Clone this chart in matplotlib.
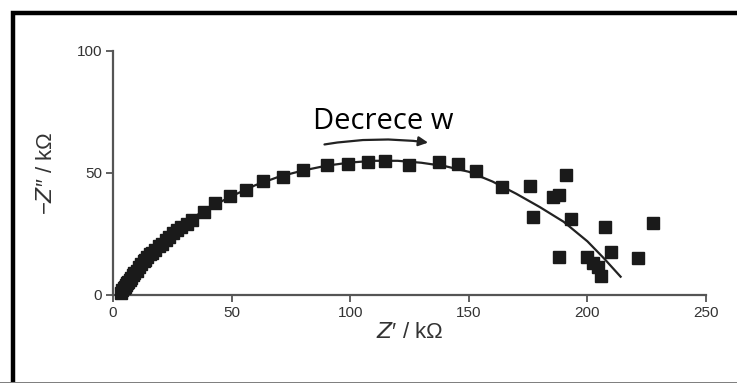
import matplotlib
matplotlib.use("Agg")
import matplotlib.pyplot as plt
from matplotlib.patches import Rectangle
import numpy as np

# Measured impedance points (Z', -Z'') in kOhm
z_real = [3.5, 4.0, 4.5, 5.0, 5.5, 6.0, 6.5, 7.0, 7.5, 8.3, 9.0, 10.0, 11.0, 12.0,
          13.0, 13.7, 14.5, 15.5, 16.3, 17.5, 19.3, 20.5, 22.2, 23.5, 25.2, 27.0,
          28.8, 31.0, 33.2, 38.3, 43.1, 49.4, 56.2, 63.1, 71.5, 80.2, 90.2, 99.1,
          107.6, 114.6, 124.9, 137.4, 145.4, 152.9, 163.8, 175.7, 177.1, 185.6,
          188.0, 191.0, 193.0, 188.0, 200.0, 202.3, 204.3, 205.9, 207.5, 209.9,
          221.4, 227.8]
z_imag = [1.0, 2.0, 2.8, 3.4, 4.0, 4.8, 5.5, 6.2, 7.0, 8.0, 8.9, 10.0, 11.6, 12.8,
          14.0, 14.4, 15.6, 16.8, 17.1, 18.5, 19.9, 21.0, 22.6, 23.8, 25.3, 26.5,
          27.8, 29.2, 30.8, 34.2, 37.7, 40.4, 43.2, 46.6, 48.4, 51.1, 53.4, 53.8,
          54.5, 55.1, 53.2, 54.5, 53.7, 51.0, 44.1, 44.5, 31.9, 40.0,
          41.1, 49.3, 31.2, 15.5, 15.5, 13.0, 11.6, 7.8, 27.8, 17.8,
          15.1, 29.7]

# Fitted curve
fit_real = [4, 10, 20, 30, 40, 50, 60, 70, 80, 90, 100, 110, 120, 130, 140, 150,
            160, 170, 180, 190, 200, 207, 214]
fit_imag = [0, 10, 21, 29.5, 35.5, 40.5, 45, 48.5, 51, 53, 54.3, 55, 55, 54.2, 52.8,
            50.5, 46.5, 41.5, 36.0, 30.0, 22.0, 15.0, 7.5]

xticks = [0, 50, 100, 150, 200, 250]
yticks = [0, 50, 100]

W, H = 737, 383
fig = plt.figure(figsize=(W / 100, H / 100), dpi=100)
fig.patch.set_facecolor("white")

# outer frame (right and bottom edges fall outside the picture)
fig.patches.append(Rectangle((12.5 / W, -20 / H), (W + 20) / W, (H + 20 - 12.5) / H,
                             transform=fig.transFigure, fill=False,
                             edgecolor="black", linewidth=3.2, zorder=0))
fig.patches.append(Rectangle((0, 0), 1, 1.5 / H, transform=fig.transFigure,
                             facecolor="#808080", edgecolor="none"))

ax = fig.add_axes([113 / W, 1 - 295 / H, (706 - 113) / W, (295 - 51) / H])
ax.set_xlim(0, 250)
ax.set_ylim(0, 100)

ax.plot(fit_real, fit_imag, color="#222222", linewidth=1.6, zorder=2)
ax.plot(z_real, z_imag, linestyle="none", marker="s", markersize=8,
        color="#1a1a1a", zorder=3, clip_on=False)

for s in ["top", "right"]:
    ax.spines[s].set_visible(False)
for s in ["left", "bottom"]:
    ax.spines[s].set_color("#555555")
    ax.spines[s].set_linewidth(1.6)

ax.set_xticks(xticks)
ax.set_yticks(yticks)
ax.tick_params(direction="out", length=5, width=1.3, color="#555555",
               labelsize=11, labelcolor="#333333", pad=3)
for lab in ax.get_xticklabels() + ax.get_yticklabels():
    lab.set_family("Liberation Sans")

ax.set_xlabel("$Z$′ / kΩ", fontsize=16, color="#333333", family="Liberation Sans",
              labelpad=1)
ax.set_ylabel("−$Z$″ / kΩ", fontsize=16, color="#333333", family="Liberation Sans",
              labelpad=14)

ax.text(114, 71, "Decrece w", fontsize=21, family="Open Sans", color="black",
        ha="center", va="center")
ax.annotate("", xy=(134, 62.3), xytext=(88, 61.5),
            arrowprops=dict(arrowstyle="-|>", color="#222222", lw=1.6,
                            mutation_scale=14,
                            connectionstyle="arc3,rad=-0.08"))

fig.savefig("out.png", dpi=100)
